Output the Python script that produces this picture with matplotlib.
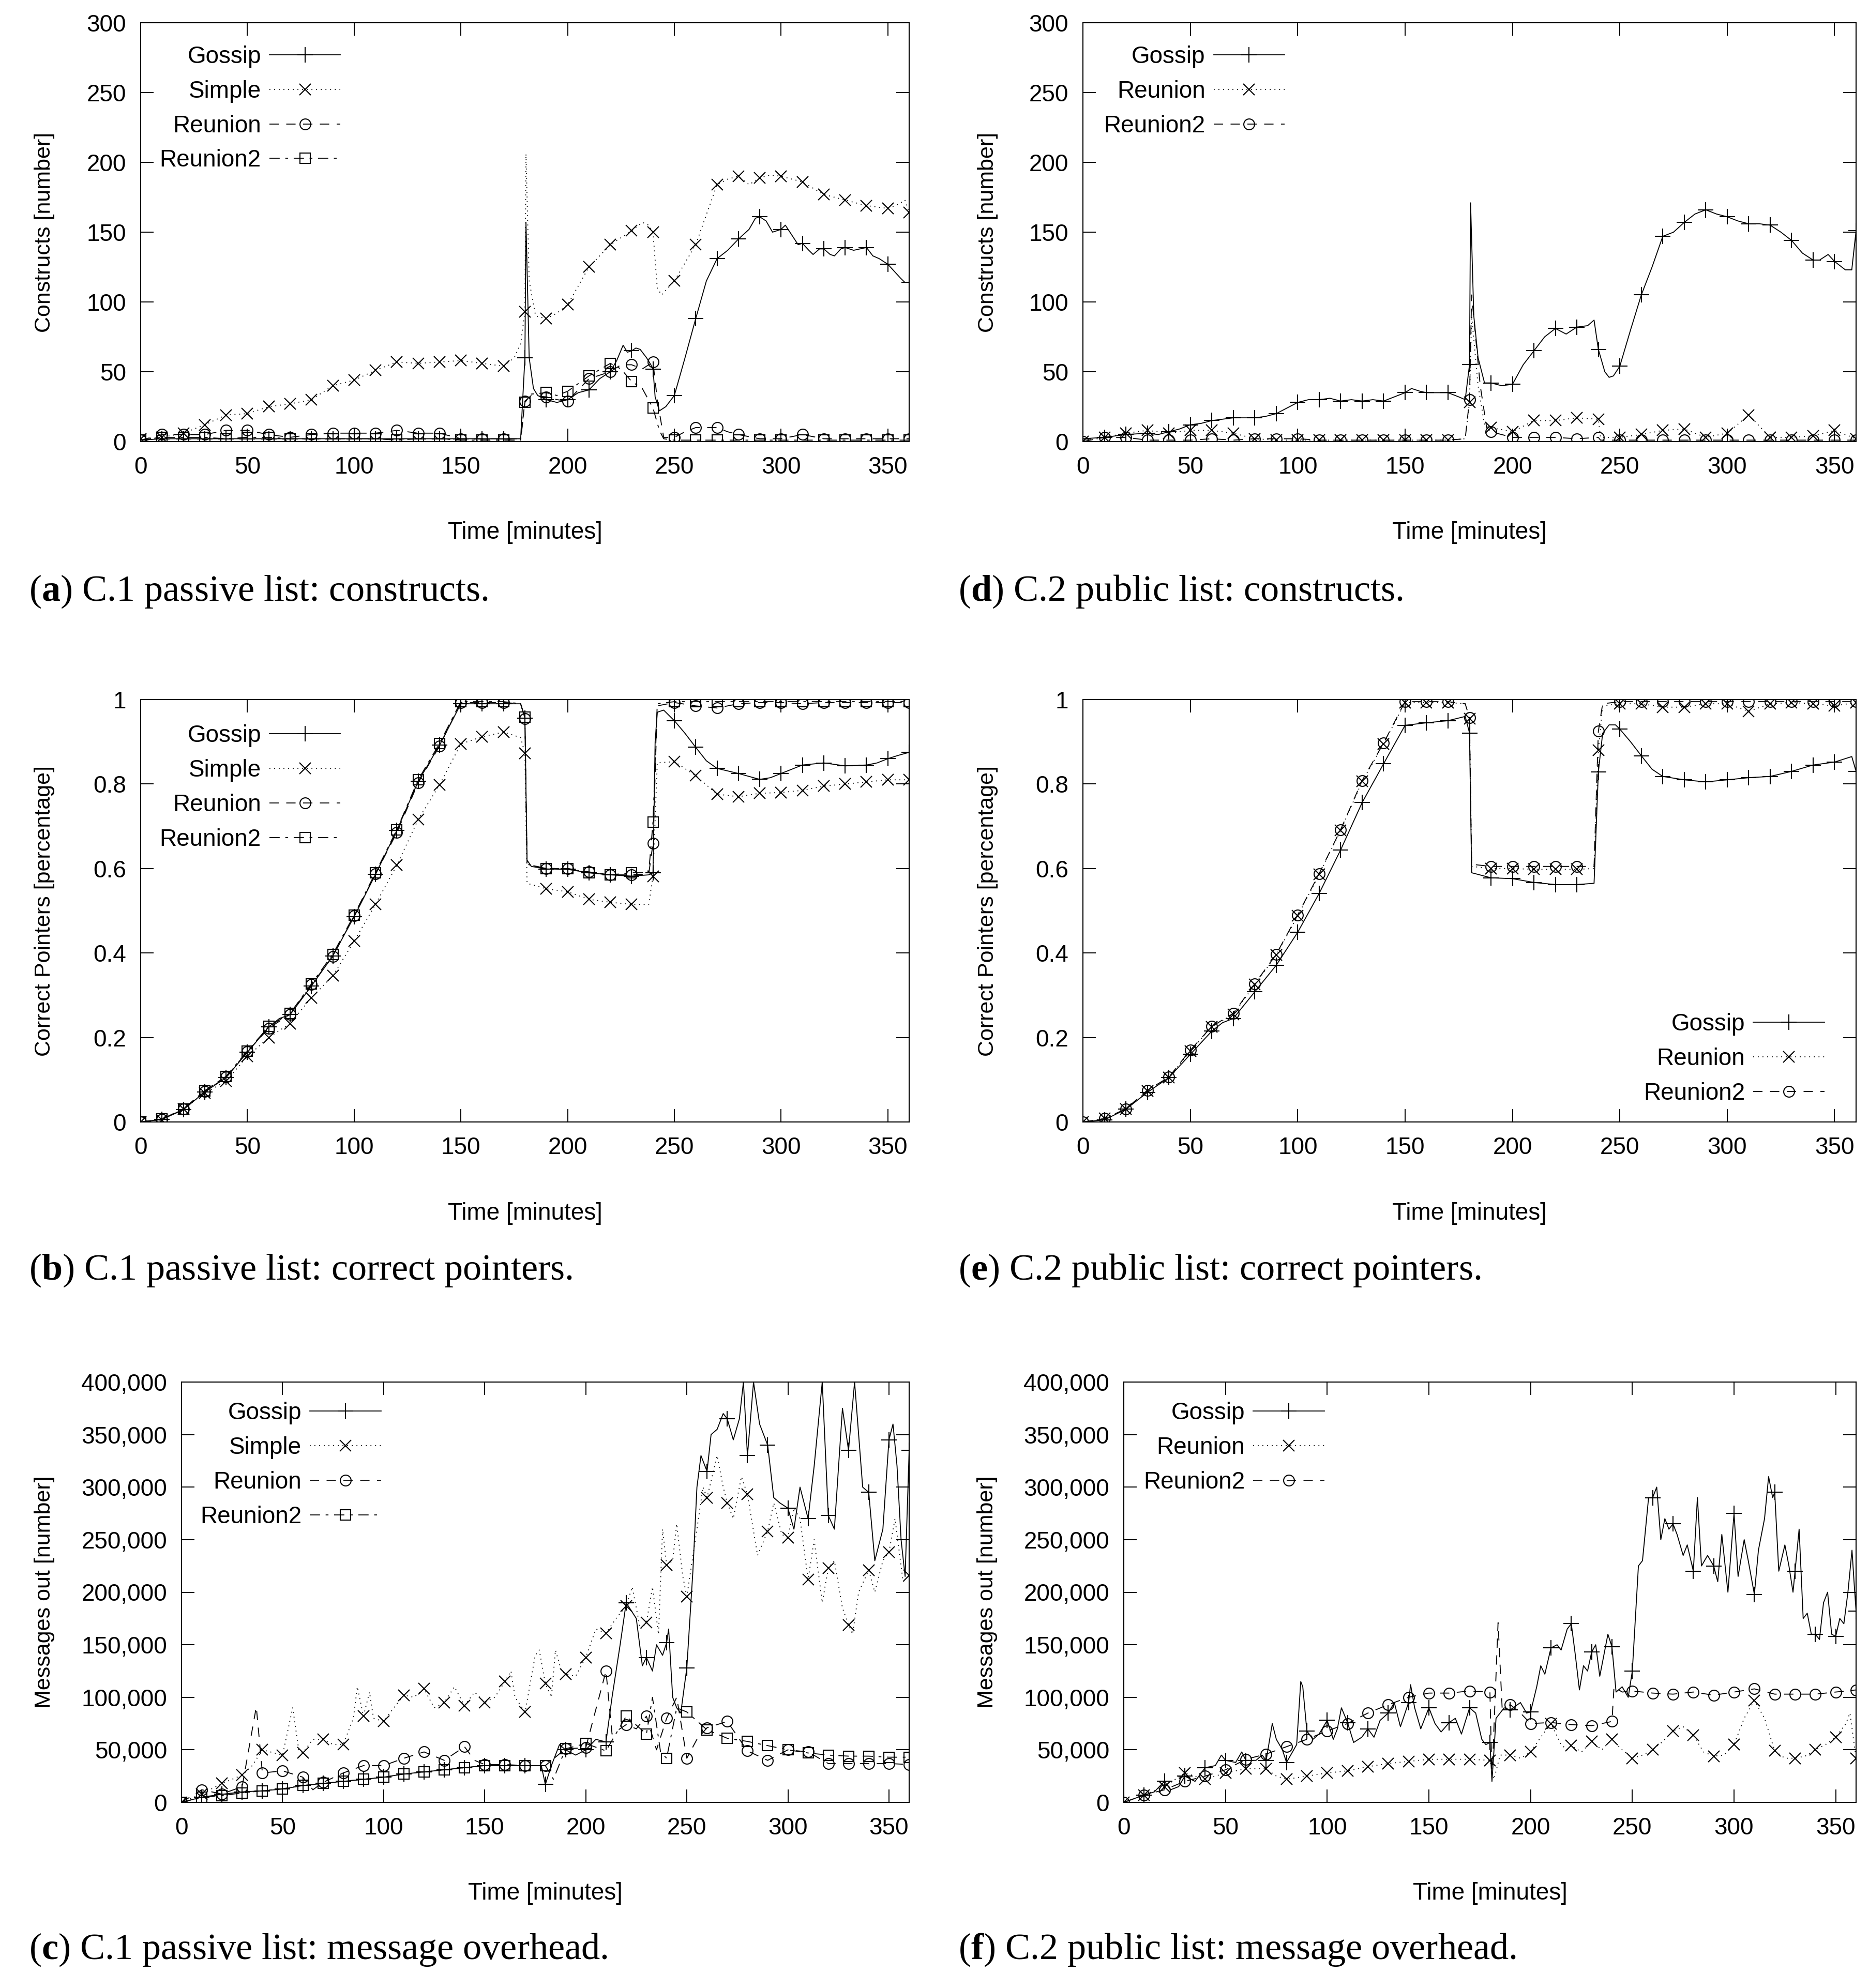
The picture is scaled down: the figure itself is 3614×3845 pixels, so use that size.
import numpy as np
import matplotlib
matplotlib.use("Agg")
import matplotlib.pyplot as plt
from matplotlib.ticker import FuncFormatter, MultipleLocator

# ---- data (time [min], value) ----
a_gossip = [(0, 1), (10, 2), (20, 2), (30, 2), (40, 2), (50, 2), (60, 2), (70, 2), (80, 2), (90, 2),
            (100, 2), (110, 2), (120, 2), (130, 2), (140, 2), (150, 2), (160, 2), (170, 2), (178, 2),
            (180, 60), (180.5, 157), (182, 60), (184, 38), (186, 33), (190, 30), (195, 28), (200, 30),
            (205, 35), (210, 37), (215, 45), (220, 50), (223, 58), (226, 69), (228, 64), (230, 65),
            (232, 67), (234, 66), (237, 60), (239, 55), (240, 52), (241, 32), (243, 22), (246, 25),
            (250, 33), (255, 60), (260, 88), (265, 115), (270, 131), (275, 137), (280, 145), (285, 152),
            (288, 160), (290, 161), (293, 158), (296, 150), (300, 152), (302, 155), (305, 148),
            (308, 141), (310, 142), (313, 137), (315, 134), (318, 138), (320, 138), (323, 134),
            (325, 133), (328, 138), (330, 139), (334, 137), (337, 138), (340, 139), (343, 133),
            (346, 131), (350, 127), (353, 122), (356, 117), (358, 114), (360, 114)]
a_simple = [(0, 2), (10, 3), (20, 6), (30, 12), (40, 19), (50, 20), (60, 25), (70, 27), (80, 30),
            (90, 40), (100, 44), (110, 51), (120, 57), (130, 56), (140, 57), (150, 58), (160, 56),
            (170, 54), (175, 60), (178, 70), (180, 93), (180.5, 206), (182, 115), (185, 90), (190, 88),
            (195, 92), (200, 98), (210, 125), (220, 141), (230, 151), (235, 157), (238, 155),
            (240, 150), (242, 110), (244, 105), (250, 115), (260, 141), (270, 184), (275, 188),
            (280, 190), (285, 184), (290, 189), (295, 191), (300, 190), (310, 186), (320, 177),
            (330, 173), (340, 169), (350, 167), (355, 170), (358, 173), (360, 164)]
a_reunion = [(0, 1), (10, 5), (20, 5), (30, 5), (40, 8), (50, 8), (60, 5), (70, 3), (80, 5), (90, 6),
             (100, 6), (110, 6), (120, 8), (130, 6), (140, 6), (150, 2), (160, 2), (170, 2), (178, 2),
             (180, 29), (183, 33), (190, 32), (195, 30), (200, 29), (210, 45), (220, 50), (225, 55),
             (230, 55), (235, 52), (240, 57), (242, 30), (245, 3), (250, 3), (255, 7), (260, 10),
             (270, 10), (275, 7), (280, 5), (290, 2), (300, 2), (310, 5), (320, 2), (330, 2),
             (340, 2), (350, 2), (360, 2)]
a_reunion2 = [(0, 1), (10, 3), (20, 3), (30, 3), (40, 2), (50, 3), (60, 3), (70, 2), (80, 2), (90, 2),
              (100, 2), (110, 2), (120, 1), (130, 2), (140, 2), (150, 1), (160, 1), (170, 1), (178, 1),
              (180, 28), (183, 34), (190, 35), (195, 33), (200, 36), (210, 47), (220, 56), (225, 52),
              (230, 43), (235, 38), (240, 24), (243, 8), (245, 2), (250, 1), (260, 1), (270, 1),
              (280, 1), (290, 1), (300, 1), (310, 1), (320, 1), (330, 1), (340, 1), (350, 1), (360, 1)]

d_gossip = [(0, 2), (10, 3), (20, 5), (30, 6), (35, 5), (40, 7), (45, 9), (50, 12), (55, 13), (60, 15),
            (70, 17), (80, 17), (85, 18), (90, 20), (95, 24), (100, 28), (105, 30), (110, 30), (115, 31),
            (120, 29), (125, 30), (130, 29), (135, 30), (140, 29), (145, 32), (150, 35), (153, 38),
            (157, 36), (160, 35), (165, 35), (170, 35), (175, 32), (178, 30), (180, 55), (180.5, 171),
            (182, 90), (184, 60), (187, 42), (190, 42), (195, 40), (200, 41), (205, 55), (210, 65),
            (215, 75), (220, 81), (225, 77), (230, 82), (235, 83), (238, 87), (240, 66), (243, 50),
            (245, 46), (247, 47), (250, 54), (255, 80), (260, 105), (265, 125), (270, 147), (275, 150),
            (280, 157), (285, 163), (290, 166), (295, 163), (300, 161), (305, 158), (310, 156),
            (315, 156), (320, 155), (325, 150), (330, 144), (335, 135), (340, 130), (343, 130),
            (347, 134), (350, 129), (355, 123), (358, 123), (360, 151)]
d_reunion = [(0, 0), (10, 3), (20, 6), (30, 8), (40, 6), (50, 8), (60, 8), (70, 6), (80, 2), (90, 1),
             (100, 1), (110, 1), (120, 1), (130, 1), (140, 1), (150, 1), (160, 1), (170, 1), (178, 2),
             (180, 28), (181, 90), (184, 40), (187, 12), (190, 10), (200, 7), (210, 15), (220, 15),
             (230, 17), (240, 16), (241, 3), (250, 3), (260, 5), (270, 8), (280, 9), (290, 3),
             (300, 6), (310, 19), (320, 3), (330, 3), (340, 4), (350, 8), (360, 2)]
d_reunion2 = [(0, 0), (10, 3), (20, 3), (30, 1), (40, 1), (50, 1), (60, 2), (70, 1), (80, 2), (90, 2),
              (100, 2), (110, 1), (120, 1), (130, 1), (140, 1), (150, 1), (160, 1), (170, 1), (178, 2),
              (180, 30), (181, 105), (185, 40), (188, 10), (190, 7), (200, 3), (210, 3), (220, 3),
              (230, 2), (240, 3), (241, 1), (250, 1), (260, 1), (270, 1), (280, 1), (290, 1), (300, 1),
              (310, 1), (320, 1), (330, 1), (340, 1), (350, 1), (360, 1)]

b_gossip = [(0, 0), (10, 0.006), (20, 0.029), (30, 0.071), (40, 0.105), (50, 0.165), (60, 0.225),
            (65, 0.245), (70, 0.254), (80, 0.322), (90, 0.393), (100, 0.486), (110, 0.586), (120, 0.69),
            (130, 0.806), (140, 0.892), (150, 0.99), (160, 0.99), (170, 0.99), (178, 0.99), (180, 0.956),
            (181, 0.62), (183, 0.605), (190, 0.599), (200, 0.598), (210, 0.59), (220, 0.585),
            (230, 0.582), (238, 0.585), (240, 0.59), (241, 0.9), (242, 0.97), (245, 0.975), (250, 0.95),
            (255, 0.92), (260, 0.887), (265, 0.855), (270, 0.837), (280, 0.825), (290, 0.811),
            (295, 0.815), (300, 0.825), (305, 0.835), (310, 0.845), (320, 0.85), (330, 0.843),
            (340, 0.845), (345, 0.85), (350, 0.86), (355, 0.868), (360, 0.875)]
b_simple = [(0, 0), (10, 0.005), (20, 0.03), (30, 0.068), (40, 0.097), (50, 0.155), (60, 0.2),
            (70, 0.233), (80, 0.294), (90, 0.346), (100, 0.428), (110, 0.515), (120, 0.608),
            (130, 0.716), (140, 0.798), (150, 0.895), (160, 0.912), (170, 0.923), (178, 0.91),
            (180, 0.873), (181, 0.565), (190, 0.552), (200, 0.545), (210, 0.527), (220, 0.52),
            (230, 0.515), (238, 0.515), (240, 0.582), (242, 0.85), (250, 0.853), (260, 0.82),
            (270, 0.776), (280, 0.77), (290, 0.778), (300, 0.78), (310, 0.785), (320, 0.795),
            (330, 0.8), (340, 0.805), (350, 0.81), (360, 0.81)]
b_reunion = [(0, 0), (10, 0.006), (20, 0.03), (30, 0.072), (40, 0.106), (50, 0.167), (60, 0.222),
             (70, 0.255), (80, 0.325), (90, 0.392), (100, 0.488), (110, 0.587), (120, 0.685),
             (130, 0.803), (140, 0.89), (150, 0.993), (160, 0.993), (170, 0.993), (178, 0.99),
             (180, 0.955), (181, 0.61), (190, 0.6), (200, 0.6), (210, 0.592), (220, 0.585),
             (230, 0.585), (238, 0.587), (240, 0.66), (242, 0.985), (250, 0.993), (260, 0.985),
             (270, 0.98), (280, 0.99), (290, 0.993), (300, 0.993), (310, 0.99), (320, 0.993),
             (330, 0.993), (340, 0.993), (350, 0.993), (360, 0.993)]
b_reunion2 = [(0, 0), (10, 0.007), (20, 0.031), (30, 0.074), (40, 0.108), (50, 0.168), (60, 0.226),
              (70, 0.257), (80, 0.327), (90, 0.397), (100, 0.49), (110, 0.59), (120, 0.692),
              (130, 0.81), (140, 0.896), (150, 0.995), (160, 0.995), (170, 0.995), (178, 0.99),
              (180, 0.958), (181, 0.61), (190, 0.6), (200, 0.6), (210, 0.59), (220, 0.585),
              (230, 0.59), (238, 0.59), (240, 0.71), (242, 0.99), (250, 0.995), (260, 0.995),
              (270, 0.995), (280, 0.995), (290, 0.995), (300, 0.995), (310, 0.995), (320, 0.995),
              (330, 0.995), (340, 0.995), (350, 0.995), (360, 0.995)]

e_gossip = [(0, 0), (10, 0.005), (20, 0.03), (30, 0.07), (40, 0.105), (50, 0.16), (60, 0.215),
            (65, 0.235), (70, 0.245), (80, 0.308), (90, 0.371), (100, 0.449), (110, 0.541),
            (120, 0.644), (130, 0.756), (140, 0.848), (150, 0.939), (160, 0.945), (170, 0.95),
            (178, 0.96), (180, 0.921), (181, 0.59), (190, 0.578), (200, 0.576), (210, 0.567),
            (220, 0.562), (230, 0.562), (238, 0.565), (240, 0.829), (242, 0.92), (245, 0.94),
            (248, 0.94), (250, 0.93), (255, 0.9), (260, 0.867), (265, 0.835), (270, 0.818),
            (280, 0.81), (290, 0.805), (300, 0.81), (310, 0.815), (320, 0.818), (330, 0.83),
            (340, 0.845), (350, 0.852), (358, 0.865), (360, 0.83)]
e_reunion = [(0, 0), (10, 0.008), (20, 0.03), (30, 0.073), (40, 0.105), (50, 0.168), (60, 0.225),
             (70, 0.255), (80, 0.325), (90, 0.395), (100, 0.488), (110, 0.586), (120, 0.69),
             (130, 0.806), (140, 0.895), (150, 0.993), (160, 0.993), (170, 0.993), (178, 0.99),
             (180, 0.955), (181, 0.605), (190, 0.6), (200, 0.6), (210, 0.598), (220, 0.598),
             (230, 0.598), (238, 0.6), (240, 0.88), (242, 0.985), (250, 0.99), (260, 0.99),
             (270, 0.982), (280, 0.982), (290, 0.99), (300, 0.99), (310, 0.972), (320, 0.99),
             (330, 0.993), (340, 0.99), (350, 0.985), (360, 0.993)]
e_reunion2 = [(0, 0), (10, 0.008), (20, 0.031), (30, 0.075), (40, 0.106), (50, 0.17), (60, 0.226),
              (70, 0.257), (80, 0.327), (90, 0.397), (100, 0.49), (110, 0.588), (120, 0.692),
              (130, 0.808), (140, 0.897), (150, 0.995), (160, 0.995), (170, 0.995), (178, 0.99),
              (180, 0.957), (181, 0.61), (190, 0.605), (200, 0.605), (210, 0.605), (220, 0.605),
              (230, 0.605), (238, 0.605), (240, 0.925), (242, 0.99), (250, 0.995), (260, 0.995),
              (270, 0.995), (280, 0.995), (290, 0.995), (300, 0.995), (310, 0.995), (320, 0.995),
              (330, 0.995), (340, 0.995), (350, 0.995), (360, 0.995)]

c_gossip = [(0, 0), (10, 5000), (20, 7700), (30, 10000), (40, 11000), (50, 12700), (60, 16000),
            (70, 18000), (80, 20000), (90, 21900), (100, 24000), (110, 27000), (120, 29000),
            (130, 31000), (140, 33000), (150, 35000), (160, 35000), (170, 35000), (178, 35000),
            (180, 17000), (183, 35000), (187, 55000), (190, 50000), (195, 45000), (200, 50000),
            (205, 60000), (210, 57500), (213, 100000), (217, 150000), (220, 190000), (225, 175000),
            (228, 130000), (230, 138000), (233, 125000), (235, 150000), (238, 140000), (240, 152000),
            (241, 165000), (243, 100000), (245, 90000), (247, 85000), (250, 128000), (253, 220000),
            (255, 300000), (257, 330000), (260, 315000), (262, 350000), (265, 355000), (268, 370000),
            (270, 365000), (273, 345000), (276, 365000), (278, 400000), (280, 330000), (283, 400000),
            (286, 360000), (290, 340000), (293, 290000), (296, 285000), (300, 280000), (303, 260000),
            (306, 300000), (310, 270000), (313, 320000), (317, 400000), (320, 273000), (323, 260000),
            (327, 375000), (330, 335000), (333, 400000), (337, 300000), (340, 295000), (343, 230000),
            (347, 260000), (350, 345000), (352, 360000), (354, 320000), (356, 250000), (358, 215000),
            (360, 335000)]
c_simple = [(0, 0), (10, 8000), (20, 18000), (30, 26000), (35, 35000), (40, 50000), (50, 45000),
            (55, 90000), (58, 50000), (60, 47000), (65, 60000), (70, 60000), (75, 55000), (80, 55000),
            (85, 80000), (87, 110000), (90, 82000), (93, 105000), (95, 80000), (100, 77000),
            (105, 90000), (110, 102000), (115, 100000), (120, 108000), (125, 90000), (130, 95000),
            (135, 110000), (140, 92000), (145, 105000), (150, 95000), (155, 100000), (160, 115000),
            (163, 125000), (165, 100000), (170, 86000), (175, 140000), (177, 145000), (180, 113000),
            (183, 100000), (185, 145000), (188, 125000), (190, 122000), (195, 120000), (200, 138000),
            (205, 165000), (210, 161000), (215, 175000), (220, 187000), (223, 205000), (227, 165000),
            (230, 171000), (233, 205000), (236, 160000), (238, 260000), (240, 226000), (243, 230000),
            (245, 265000), (248, 215000), (250, 196000), (255, 260000), (258, 300000), (260, 290000),
            (265, 330000), (268, 300000), (270, 285000), (273, 270000), (277, 310000), (280, 293000),
            (285, 235000), (290, 258000), (293, 285000), (297, 255000), (300, 252000), (303, 280000),
            (306, 270000), (310, 212000), (313, 250000), (317, 190000), (320, 223000), (323, 230000),
            (327, 185000), (330, 169000), (332, 160000), (335, 200000), (340, 221000), (343, 200000),
            (347, 230000), (350, 238000), (353, 270000), (357, 210000), (360, 216000)]
c_reunion = [(0, 0), (10, 12000), (20, 8000), (30, 15000), (37, 91000), (40, 28000), (50, 30000),
             (60, 24000), (65, 12000), (70, 19000), (80, 28000), (90, 35000), (100, 35000),
             (110, 42000), (120, 48000), (130, 40000), (140, 53000), (145, 40000), (150, 36000),
             (160, 36000), (170, 35000), (180, 35000), (190, 51000), (200, 52000), (210, 125000),
             (213, 65000), (220, 74000), (225, 70000), (230, 82000), (235, 50000), (240, 80000),
             (245, 100000), (250, 42000), (255, 60000), (260, 71000), (270, 77000), (280, 49000),
             (290, 40000), (300, 50000), (310, 48000), (320, 37000), (330, 37000), (340, 37000),
             (350, 37000), (360, 36000)]
c_reunion2 = [(0, 0), (10, 5000), (20, 6500), (30, 9000), (40, 11000), (50, 13000), (60, 16000),
              (70, 18000), (80, 20000), (90, 22000), (100, 24000), (110, 27000), (120, 29000),
              (130, 31000), (140, 33000), (150, 35000), (160, 35000), (170, 35000), (180, 35000),
              (184, 22000), (190, 51000), (200, 56000), (210, 49000), (220, 82000), (230, 65000),
              (233, 100000), (237, 48000), (240, 42000), (245, 90000), (250, 86000), (260, 69000),
              (270, 61000), (280, 58000), (290, 54000), (300, 50000), (310, 47000), (320, 45000),
              (330, 44000), (340, 44000), (350, 43000), (360, 43000)]

f_gossip = [(0, 0), (10, 7000), (15, 10000), (20, 20000), (23, 12000), (27, 15000), (30, 25000),
            (35, 20000), (40, 33000), (45, 35000), (48, 45000), (50, 40000), (55, 38000), (58, 48000),
            (60, 40000), (65, 40000), (68, 45000), (70, 40000), (73, 75000), (75, 60000), (78, 50000),
            (80, 38000), (85, 55000), (87, 115000), (88, 110000), (90, 68000), (93, 60000), (96, 65000),
            (100, 78000), (103, 60000), (105, 70000), (107, 90000), (110, 76000), (113, 57000),
            (117, 62000), (120, 70000), (123, 62000), (126, 78000), (130, 85000), (133, 95000),
            (136, 72000), (140, 95000), (141, 112000), (143, 90000), (146, 70000), (150, 90000),
            (153, 75000), (156, 67000), (160, 76000), (163, 80000), (166, 65000), (170, 90000),
            (173, 85000), (176, 60000), (178, 55000), (180, 57000), (181, 20000), (183, 80000),
            (187, 90000), (190, 88000), (195, 95000), (198, 85000), (200, 86000), (203, 110000),
            (205, 130000), (207, 122000), (210, 147000), (213, 150000), (215, 145000), (218, 165000),
            (220, 170000), (222, 140000), (224, 107000), (226, 130000), (228, 125000), (230, 143000),
            (232, 150000), (234, 120000), (236, 140000), (238, 160000), (240, 148000), (242, 105000),
            (245, 110000), (248, 100000), (250, 125000), (253, 225000), (255, 230000), (258, 290000),
            (260, 290000), (262, 300000), (264, 250000), (266, 270000), (268, 260000), (270, 265000),
            (272, 255000), (275, 235000), (277, 245000), (280, 220000), (282, 290000), (284, 225000),
            (287, 235000), (290, 225000), (292, 210000), (294, 255000), (297, 200000), (300, 275000),
            (302, 215000), (305, 250000), (307, 230000), (310, 198000), (312, 240000), (315, 270000),
            (317, 310000), (319, 290000), (320, 295000), (322, 220000), (325, 245000), (327, 225000),
            (329, 200000), (330, 220000), (332, 260000), (334, 175000), (336, 180000), (338, 160000),
            (340, 160000), (342, 155000), (344, 190000), (346, 200000), (348, 160000), (350, 158000),
            (352, 175000), (354, 170000), (356, 200000), (358, 240000), (359, 210000), (360, 182000)]
f_reunion = [(0, 0), (10, 7000), (20, 15000), (30, 28000), (40, 22000), (50, 28000), (60, 32000),
             (70, 32000), (75, 25000), (80, 22000), (90, 25000), (100, 28000), (110, 30000),
             (120, 34000), (130, 37000), (140, 39000), (150, 41000), (160, 41000), (170, 41000),
             (180, 40000), (182, 22000), (185, 45000), (190, 45000), (195, 42000), (200, 48000),
             (205, 62000), (210, 75000), (215, 55000), (218, 50000), (220, 54000), (225, 48000),
             (230, 58000), (235, 50000), (240, 60000), (245, 50000), (250, 42000), (255, 45000),
             (260, 50000), (265, 58000), (270, 68000), (275, 72000), (280, 64000), (285, 48000),
             (290, 44000), (295, 45000), (300, 55000), (305, 80000), (310, 97000), (315, 80000),
             (320, 49000), (325, 42000), (330, 42000), (335, 44000), (340, 50000), (345, 55000),
             (350, 62000), (355, 75000), (357, 85000), (360, 42000)]
f_reunion2 = [(0, 0), (10, 7000), (20, 12000), (30, 20000), (40, 25000), (50, 31000), (60, 41000),
              (70, 46000), (80, 53000), (90, 60000), (100, 68000), (110, 75000), (120, 85000),
              (130, 93000), (140, 100000), (150, 104000), (160, 104000), (170, 106000), (180, 105000),
              (181, 22000), (184, 171000), (186, 90000), (190, 93000), (195, 85000), (200, 75000),
              (210, 76000), (220, 74000), (230, 73000), (240, 77000), (241, 110000), (245, 105000),
              (250, 106000), (260, 104000), (270, 103000), (280, 105000), (290, 102000), (300, 105000),
              (310, 108000), (320, 103000), (330, 103000), (340, 103000), (350, 105000), (360, 107000)]

# ---- styles ----
SANS = ["Liberation Sans", "DejaVu Sans"]
plt.rcParams["font.family"] = SANS
plt.rcParams["mathtext.fontset"] = "custom"
plt.rcParams["mathtext.rm"] = "Liberation Serif"
plt.rcParams["mathtext.bf"] = "Liberation Serif:bold"

LW = 1.3
DOT = (0, (1, 4))
DASH = (0, (10, 8))
DASHDOT = (0, (11, 6, 3, 6))
ST = {
    "gossip": dict(ls="-", marker="+", ms=21),
    "simple": dict(ls=DOT, marker="x", ms=16),
    "reunion_o": dict(ls=DASH, marker="o", ms=15, mfc="none"),
    "reunion2_s": dict(ls=DASHDOT, marker="s", ms=15, mfc="none"),
    "reunion_x": dict(ls=DOT, marker="x", ms=16),
    "reunion2_o": dict(ls=DASH, marker="o", ms=15, mfc="none"),
}

W, H = 3614, 3845
fig = plt.figure(figsize=(W / 100, H / 100), dpi=100)


def rect(left, right, top, bottom):
    return [left / W, 1 - bottom / H, (right - left) / W, (bottom - top) / H]


def series(ax, data, label, style):
    t = np.array([p[0] for p in data], dtype=float)
    y = np.array([p[1] for p in data], dtype=float)
    marks = [i for i, v in enumerate(t) if v % 10 == 0]
    ax.plot(t, y, color="black", lw=LW, mew=1.5, markevery=marks, label=label, **style)


def setup(ax, ylim, ystep, fmt, ylabel, ylab_x):
    ax.set_xlim(0, 360)
    ax.set_ylim(*ylim)
    ax.xaxis.set_major_locator(MultipleLocator(50))
    ax.yaxis.set_major_locator(MultipleLocator(ystep))
    ax.yaxis.set_major_formatter(FuncFormatter(fmt))
    ax.tick_params(direction="in", length=18, width=1.4, top=True, right=True,
                   labelsize=33, pad=20)
    for s in ax.spines.values():
        s.set_linewidth(1.5)
    ax.set_xlabel("Time [minutes]", fontsize=33)
    ax.xaxis.set_label_coords(0.5, -0.19)
    ax.set_ylabel(ylabel, fontsize=31)
    ax.yaxis.set_label_coords(ylab_x, 0.5)


def legend(ax, loc, anchor):
    ax.legend(loc=loc, bbox_to_anchor=anchor, frameon=False, markerfirst=False,
              fontsize=33, handlelength=3.0, handletextpad=0.35, labelspacing=0.5,
              borderpad=0, borderaxespad=0)


num_fmt = lambda v, p: "%d" % v
pct_fmt = lambda v, p: "%g" % round(v, 2)
msg_fmt = lambda v, p: "{:,}".format(int(v))

# (a)
ax = fig.add_axes(rect(272, 1758, 44, 854))
series(ax, a_gossip, "Gossip", ST["gossip"])
series(ax, a_simple, "Simple", ST["simple"])
series(ax, a_reunion, "Reunion", ST["reunion_o"])
series(ax, a_reunion2, "Reunion2", ST["reunion2_s"])
setup(ax, (0, 300), 50, num_fmt, "Constructs [number]", -0.112)
legend(ax, "upper right", (0.26, 0.946))

# (d)
ax = fig.add_axes(rect(2094, 3589, 44, 854))
series(ax, d_gossip, "Gossip", ST["gossip"])
series(ax, d_reunion, "Reunion", ST["reunion_x"])
series(ax, d_reunion2, "Reunion2", ST["reunion2_o"])
setup(ax, (0, 300), 50, num_fmt, "Constructs [number]", -0.110)
legend(ax, "upper right", (0.261, 0.946))

# (b)
ax = fig.add_axes(rect(272, 1758, 1353, 2170))
series(ax, b_gossip, "Gossip", ST["gossip"])
series(ax, b_simple, "Simple", ST["simple"])
series(ax, b_reunion, "Reunion", ST["reunion_o"])
series(ax, b_reunion2, "Reunion2", ST["reunion2_s"])
setup(ax, (0, 1), 0.2, pct_fmt, "Correct Pointers [percentage]", -0.112)
legend(ax, "upper right", (0.26, 0.941))

# (e)
ax = fig.add_axes(rect(2094, 3589, 1353, 2170))
series(ax, e_gossip, "Gossip", ST["gossip"])
series(ax, e_reunion, "Reunion", ST["reunion_x"])
series(ax, e_reunion2, "Reunion2", ST["reunion2_o"])
setup(ax, (0, 1), 0.2, pct_fmt, "Correct Pointers [percentage]", -0.110)
legend(ax, "lower right", (0.959, 0.04))

# (c)
ax = fig.add_axes(rect(351, 1758, 2673, 3486))
series(ax, c_gossip, "Gossip", ST["gossip"])
series(ax, c_simple, "Simple", ST["simple"])
series(ax, c_reunion, "Reunion", ST["reunion_o"])
series(ax, c_reunion2, "Reunion2", ST["reunion2_s"])
setup(ax, (0, 400000), 50000, msg_fmt, "Messages out [number]", -0.174)
legend(ax, "upper right", (0.274, 0.953))

# (f)
ax = fig.add_axes(rect(2173, 3589, 2673, 3486))
series(ax, f_gossip, "Gossip", ST["gossip"])
series(ax, f_reunion, "Reunion", ST["reunion_x"])
series(ax, f_reunion2, "Reunion2", ST["reunion2_o"])
setup(ax, (0, 400000), 50000, msg_fmt, "Messages out [number]", -0.172)
legend(ax, "upper right", (0.274, 0.953))

# captions
captions = [
    (56, 1144, r"($\mathbf{a}$) C.1 passive list: constructs."),
    (1853, 1144, r"($\mathbf{d}$) C.2 public list: constructs."),
    (56, 2457, r"($\mathbf{b}$) C.1 passive list: correct pointers."),
    (1853, 2457, r"($\mathbf{e}$) C.2 public list: correct pointers."),
    (56, 3771, r"($\mathbf{c}$) C.1 passive list: message overhead."),
    (1853, 3771, r"($\mathbf{f}$) C.2 public list: message overhead."),
]
for x, y, txt in captions:
    fig.text(x / W, 1 - y / H, txt, ha="left", va="center", fontsize=52,
             family=["Liberation Serif", "DejaVu Serif"])

fig.savefig("out.png", dpi=100)
